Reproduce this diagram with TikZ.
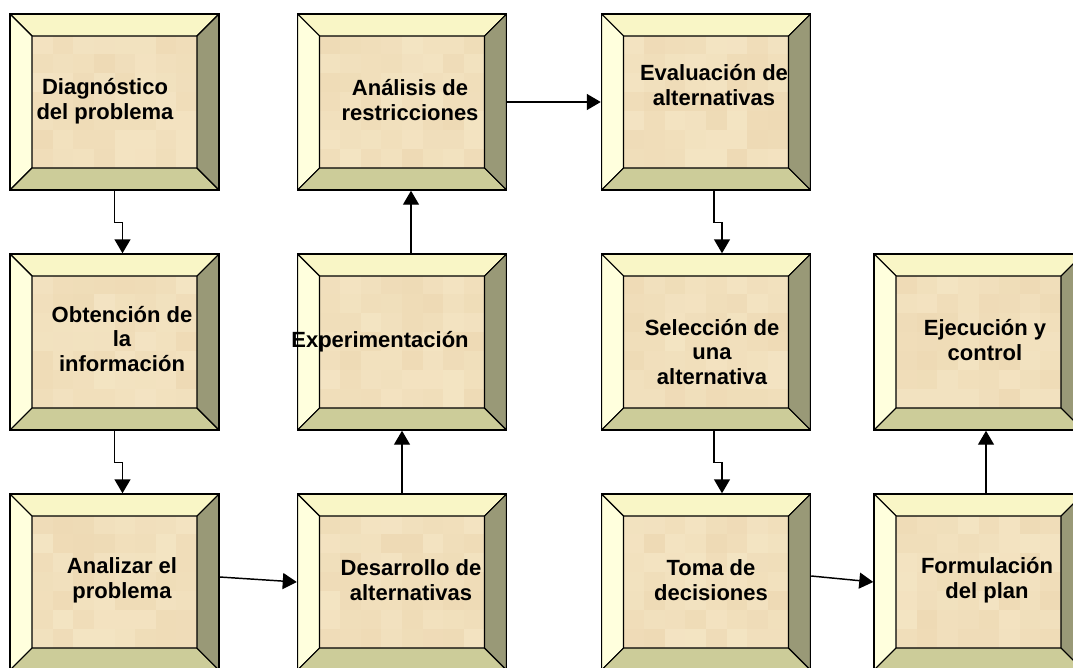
\documentclass[tikz,border=0pt]{standalone}
\usepackage{fontspec}
\setmainfont{Liberation Sans}
\usetikzlibrary{positioning, calc, arrows.meta}

\definecolor{bevtop}{HTML}{F9F6C6}
\definecolor{bevleft}{HTML}{FFFFDD}
\definecolor{bevbot}{HTML}{CCCC99}
\definecolor{bevright}{HTML}{999977}
\definecolor{facelo}{HTML}{EDD8B2}
\definecolor{facehi}{HTML}{F6E9C9}

\tikzset{
    bevel/.style={minimum width=156.75pt, minimum height=132pt, inner sep=0pt, draw, line width=1.1pt,
        path picture={
            \path (path picture bounding box.south west) coordinate (pSW)
                  (path picture bounding box.north east) coordinate (pNE);
            \coordinate (pNW) at (pSW |- pNE);
            \coordinate (pSE) at (pNE |- pSW);
            \coordinate (iSW) at ($(pSW)+(16.5pt,16.5pt)$);
            \coordinate (iNE) at ($(pNE)+(-16.5pt,-16.5pt)$);
            \coordinate (iNW) at (iSW |- iNE);
            \coordinate (iSE) at (iNE |- iSW);
            \fill[facehi] (pSW) rectangle (pNE);
            \foreach \i in {0,...,7}
            {
                \foreach \j in {0,...,6}
                {
                    \pgfmathsetmacro{\mx}{int(30+60*rnd)}
                    \fill[facelo!\mx!facehi] ($(iSW)+(\i*15.47pt,\j*14.2pt)$) rectangle ++(15.47pt,14.2pt);
                }
            }
            \filldraw[fill=bevtop, line width=0.8pt] (pNW) -- (pNE) -- (iNE) -- (iNW) -- cycle;
            \filldraw[fill=bevleft, line width=0.8pt] (pNW) -- (iNW) -- (iSW) -- (pSW) -- cycle;
            \filldraw[fill=bevbot, line width=0.8pt] (pSW) -- (iSW) -- (iSE) -- (pSE) -- cycle;
            \filldraw[fill=bevright, line width=0.8pt] (pSE) -- (iSE) -- (iNE) -- (pNE) -- cycle;
        }},
    lbl/.style={align=center, inner sep=0pt, font=\bfseries\fontsize{16.5}{18.5}\selectfont},
    arr/.style={-{Triangle[length=10.5pt, width=12pt]}, line width=1.1pt}
}

\begin{document}
\begin{tikzpicture}[x=0.75pt, y=-0.75pt]
    \pgfmathsetseed{11}
    \useasboundingbox (0,0) rectangle (1073,667);
    \clip (0,0) rectangle (1073,667);

    \foreach \n/\cx/\cy/\ox/\oy/\txt in {
        Diag/114.5/102/-9.5/-1/{Diagnóstico\\del problema},
        Obt/114.5/342/7.5/-3/{Obtención de\\la\\información},
        Anz/114.5/582/7.5/-2/{Analizar el\\problema},
        Des/402/582/9/-2/{Desarrollo de\\alternativas},
        Exp/402/342/-22/0/{Experimentación},
        Ana/402/102/8/-2/{Análisis de\\restricciones},
        Eva/706/102/8/-17/{Evaluación de\\alternativas},
        Sel/706/342/6/10/{Selección de\\una\\alternativa},
        Tom/706/582/5/-2/{Toma de\\decisiones},
        For/978.5/582/8.5/-2/{Formulación\\del plan},
        Eje/978.5/342/6.5/-2/{Ejecución y\\control}}
    {
        \node (\n) at (\cx,\cy) [bevel] {};
        \node (\n-t) at ($(\n)+(\ox,\oy)$) [lbl] {\txt};
    }

    \draw[arr] (Diag.south) -- ++(0,32) -| ($(Obt.north)+(8,0)$);
    \draw[arr] (Obt.south) -- ++(0,32) -| ($(Anz.north)+(8,0)$);
    \draw[arr] ($(Anz.east)+(0,-5)$) -- (Des.west);
    \draw[arr] (Des.north) -- (Exp.south);
    \draw[arr] ($(Exp.north)+(9,0)$) -- ($(Ana.south)+(9,0)$);
    \draw[arr] (Ana.east) -- (Eva.west);
    \draw[arr] ($(Eva.south)+(8,0)$) -- ++(0,32) -| ($(Sel.north)+(16,0)$);
    \draw[arr] ($(Sel.south)+(8,0)$) -- ++(0,32) -| ($(Tom.north)+(16,0)$);
    \draw[arr] ($(Tom.east)+(0,-6)$) -- (For.west);
    \draw[arr] ($(For.north)+(7.5,0)$) -- ($(Eje.south)+(7.5,0)$);
\end{tikzpicture}
\end{document}
